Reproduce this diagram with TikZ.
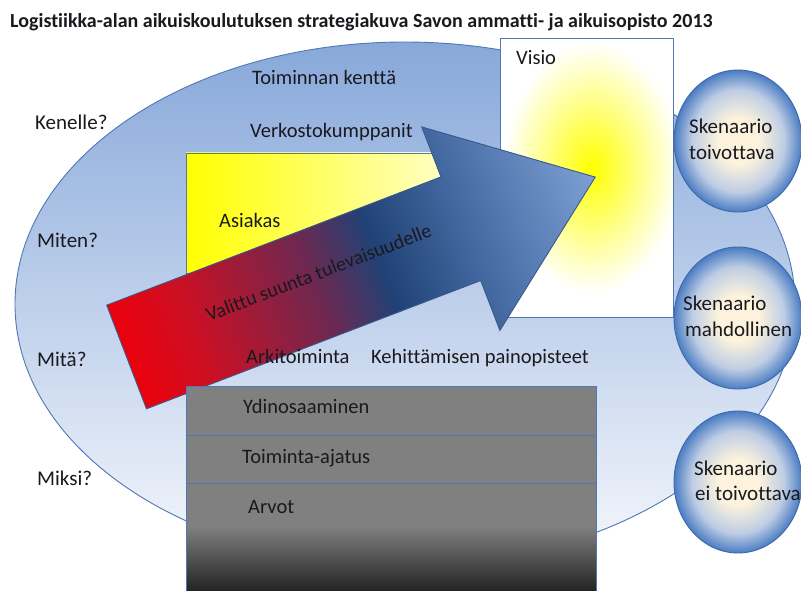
\documentclass[tikz,border=0pt]{standalone}
\usepackage{fontspec}
\setmainfont{Carlito}[Ligatures=NoCommon]
\usetikzlibrary{shadings}

\definecolor{ellTop}{RGB}{135,168,218}
\definecolor{ellMid}{RGB}{198,212,236}
\definecolor{ellBot}{RGB}{246,248,252}
\definecolor{edge}{RGB}{79,120,180}
\definecolor{txt}{RGB}{25,25,30}
\definecolor{ayel}{RGB}{255,255,0}
\definecolor{apale}{RGB}{255,255,215}
\definecolor{ar0}{RGB}{235,0,12}
\definecolor{ar1}{RGB}{205,15,35}
\definecolor{ar2}{RGB}{110,40,80}
\definecolor{ar3}{RGB}{32,66,118}
\definecolor{ar4}{RGB}{75,112,168}
\definecolor{ar5}{RGB}{125,160,212}
\definecolor{arline}{RGB}{55,90,140}
\definecolor{gboxg}{RGB}{128,128,128}
\definecolor{gboxd}{RGB}{35,35,35}
\definecolor{bcream}{RGB}{253,243,220}
\definecolor{bmid}{RGB}{190,205,228}
\definecolor{bout}{RGB}{75,125,195}
\definecolor{bline}{RGB}{60,105,170}

\pgfdeclarehorizontalshading{arrowshade}{100bp}{color(0bp)=(ar0); color(25bp)=(ar0); color(32bp)=(ar1); color(45bp)=(ar2); color(52bp)=(ar3); color(63bp)=(ar4); color(75bp)=(ar5); color(100bp)=(ar5)}
\pgfdeclareverticalshading{arvotshade}{100bp}{color(0bp)=(gboxd); color(25bp)=(gboxd); color(55bp)=(gboxg); color(100bp)=(gboxg)}
\pgfdeclareradialshading{ballshade}{\pgfpoint{0bp}{0bp}}{color(0bp)=(bcream); color(8bp)=(bcream); color(18bp)=(bmid); color(25bp)=(bout); color(50bp)=(bout)}

\tikzset{
  lbl/.style={anchor=base west, inner sep=0pt, text=txt, font=\fontsize{21}{25}\selectfont},
  inlbl/.style={anchor=base west, inner sep=0pt, text=txt, font=\fontsize{20.5}{25}\selectfont},
  balltxt/.style={anchor=base west, inner sep=0pt, text=txt, font=\fontsize{21}{25}\selectfont},
  ballstyle/.style={shading=ballshade, draw=bline, line width=0.9pt},
  frame/.style={draw=edge, line width=0.8pt}
}

\begin{document}
\begin{tikzpicture}[x=1pt,y=-1pt]
\useasboundingbox (0,0) rectangle (801,591);
\fill[white] (0,0) rectangle (801,591);

% big ellipse
\path[frame, line width=0.9pt, top color=ellTop, middle color=ellMid, bottom color=ellBot]
  (405,304) ellipse [x radius=390pt, y radius=262pt];

% Asiakas box
\shade[frame, left color=ayel, right color=apale] (186,153) rectangle (470,273);

% Visio box
\fill[white] (500,38) rectangle (673,317);
\begin{scope}
  \clip (500,38) rectangle (673,317);
  \shade[inner color=ayel, outer color=white] (592,168) ellipse [x radius=88pt, y radius=125pt];
\end{scope}
\draw[frame] (500,38) rectangle (673,317);

% arrow
\begin{scope}[transform canvas={shift={(126.6pt,-357pt)},rotate=21}]
  \shade[shading=arrowshade, draw=arline, line width=0.9pt]
    (0,-55.5) -- (358,-55.5) -- (358,-109) -- (502,0) -- (358,109) -- (358,55.5) -- (0,55.5) -- cycle;
  \node[anchor=center, inner sep=0pt, text=txt, font=\fontsize{20}{24}\selectfont] (arrowtxt) at (209.5,-10) {Valittu suunta tulevaisuudelle};
\end{scope}

% gray stack
\fill[gboxg] (186,386) rectangle (596,483);
\shade[shading=arvotshade] (186,483) rectangle (596,591);
\draw[frame] (186,591) -- (186,386) -- (596,386) -- (596,591);
\draw[frame] (186,435) -- (596,435);
\draw[frame] (186,483) -- (596,483);

% scenario circles
\path[ballstyle] (738,141) ellipse [x radius=64pt, y radius=71pt];
\path[ballstyle] (738,318) ellipse [x radius=64pt, y radius=71pt];
\path[ballstyle] (738,482) ellipse [x radius=64pt, y radius=71pt];

% title
\node[anchor=base west, inner sep=0pt, text=txt, font=\fontsize{20}{24}\selectfont\bfseries] (title) at (10,28)
  {Logistiikka-alan aikuiskoulutuksen strategiakuva Savon ammatti- ja aikuisopisto 2013};

% left questions
\node[lbl] (kenelle) at (35,130) {Kenelle?};
\node[lbl] (miten) at (37,247) {Miten?};
\node[lbl] (mita) at (37,366) {Mitä?};
\node[lbl] (miksi) at (37,485) {Miksi?};

% inner labels
\node[inlbl] (kentta) at (252,85) {Toiminnan kenttä};
\node[inlbl] (verkosto) at (250,138) {Verkostokumppanit};
\node[inlbl] (asiakas) at (219,227) {Asiakas};
\node[inlbl] (visio) at (516,65) {Visio};
\node[inlbl] (arki) at (246,363) {Arkitoiminta};
\node[inlbl] (kehit) at (371,363) {Kehittämisen painopisteet};
\node[inlbl] (ydin) at (243,413) {Ydinosaaminen};
\node[inlbl] (ajatus) at (242,463) {Toiminta-ajatus};
\node[inlbl] (arvot) at (248,513) {Arvot};

% circle texts
\node[balltxt] (s1a) at (689,134) {Skenaario};
\node[balltxt] (s1b) at (689,160) {toivottava};
\node[balltxt] (s2a) at (683,310) {Skenaario};
\node[balltxt] (s2b) at (685,336) {mahdollinen};
\node[balltxt] (s3a) at (694,475) {Skenaario};
\node[balltxt] (s3b) at (695,500) {ei toivottava};
\end{tikzpicture}
\end{document}
